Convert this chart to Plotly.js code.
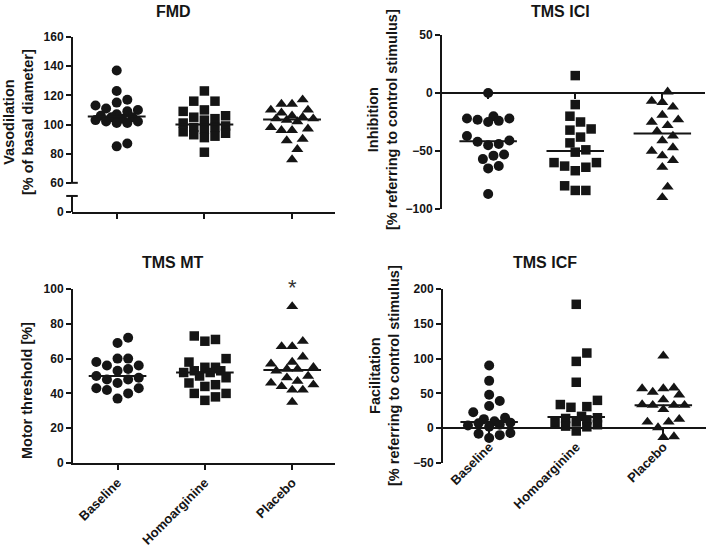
<!DOCTYPE html>
<html><head><meta charset="utf-8">
<script src="https://cdn.plot.ly/plotly-3.0.1.min.js"></script>
<style>html,body{margin:0;padding:0;background:#fff}#chart{width:709px;height:547px}</style>
</head><body><div id="chart"></div>
<script>
// ---------------- data ----------------
const groups = ["Baseline", "Homoarginine", "Placebo"];

const fmdBaseline     = [137, 123, 117, 115, 113, 111, 110, 109, 107, 106, 105, 105, 104, 103, 102, 102, 101, 101, 87, 85];
const fmdHomoarginine = [123, 116, 116, 110, 109, 106, 105, 104, 103, 101, 99, 98, 98, 97, 95, 94, 93, 92, 91, 81];
const fmdPlacebo      = [117, 114, 114, 110, 110, 108, 106, 105, 104, 104, 103, 102, 98, 97, 96, 96, 90, 89, 83, 76];

const iciBaseline     = [0, -20, -22, -22, -23, -24, -25, -37, -41, -42, -44, -45, -53, -54, -57, -63, -65, -87];
const iciHomoarginine = [15, -10, -20, -25, -31, -32, -38, -43, -49, -51, -60, -60, -63, -64, -67, -80, -84, -84];
const iciPlacebo      = [1, -7, -8, -12, -19, -23, -25, -28, -33, -37, -41, -47, -50, -54, -58, -64, -81, -90];

const mtBaseline      = [72, 69, 60, 60, 58, 56, 56, 54, 53, 50, 49, 48, 48, 46, 43, 43, 42, 40, 37];
const mtHomoarginine  = [73, 71, 70, 60, 58, 55, 55, 53, 53, 52, 52, 50, 49, 46, 45, 44, 40, 40, 38, 36];
const mtPlacebo       = [90, 70, 67, 67, 61, 58, 57, 55, 54, 54, 53, 50, 49, 47, 46, 45, 44, 42, 42, 35];

const icfBaseline     = [90, 68, 48, 39, 32, 23, 15, 13, 10, 8, 7, 5, 4, 2, -7, -8, -10, -14];
const icfHomoarginine = [178, 108, 96, 66, 40, 34, 31, 30, 17, 15, 14, 12, 10, 8, 5, 3, 2, -4];
const icfPlacebo      = [104, 58, 57, 57, 52, 48, 41, 34, 33, 33, 33, 27, 13, 9, 9, 1, -12, -13];

// ---------------- layout helpers ----------------
const W = 709, H = 547;
const INK = '#151515';
const FONT = '"Liberation Sans", Arial, Helvetica, sans-serif';
const symbols = ['circle', 'square', 'triangle-up'];
const symSize = [10, 9.5, 10.5];

const panels = [
  {key:'1', title:'FMD', data:[fmdBaseline, fmdHomoarginine, fmdPlacebo],
   xd:[72,335], yd:[37,212], xr:[-0.51,2.49], yr:[40,160], labels:false},
  {key:'2', title:'TMS ICI', data:[iciBaseline, iciHomoarginine, iciPlacebo],
   xd:[442,705], yd:[35,209], xr:[-0.53,2.49], yr:[-100,50], labels:false, zeroAxis:true},
  {key:'3', title:'TMS MT', data:[mtBaseline, mtHomoarginine, mtPlacebo],
   xd:[73,335], yd:[289,463], xr:[-0.51,2.49], yr:[0,100], labels:true},
  {key:'4', title:'TMS ICF', data:[icfBaseline, icfHomoarginine, icfPlacebo],
   xd:[443,706], yd:[289,463], xr:[-0.53,2.49], yr:[-50,200], labels:true, zeroAxis:true}
];

function median(a){
  const s = a.slice().sort((p,q)=>p-q), n = s.length;
  return n%2 ? s[(n-1)/2] : (s[n/2-1]+s[n/2])/2;
}

// beeswarm within a limited width: horizontal pixel offsets
function swarm(vals, pxPerY, diam, maxPx){
  const order = vals.map((v,i)=>i).sort((a,b)=>vals[a]-vals[b]);
  const placed = [];
  const off = new Array(vals.length).fill(0);
  const step = diam/2;
  const cands = [0];
  for (let m=1; m*step<=maxPx+0.01; m++){ cands.push(m*step, -m*step); }
  for (const i of order){
    const y = vals[i]*pxPerY;
    let best = null, bestD = -1;
    for (const c of cands){
      let dmin = Infinity;
      for (const p of placed){ dmin = Math.min(dmin, Math.hypot(p.x-c, p.y-y)); }
      if (dmin >= diam){ best = c; bestD = dmin; break; }
      if (dmin > bestD + 0.5){ bestD = dmin; best = c; }
    }
    off[i] = best; placed.push({x:best, y});
  }
  return off;
}

const traces = [];
const layout = {
  width: W, height: H,
  margin: {l:0, r:0, t:0, b:0},
  paper_bgcolor: '#fff', plot_bgcolor: 'rgba(0,0,0,0)',
  showlegend: false,
  font: {family: FONT, color: INK},
  annotations: [], shapes: []
};

panels.forEach(p => {
  const xa = 'xaxis' + (p.key==='1' ? '' : p.key), ya = 'yaxis' + (p.key==='1' ? '' : p.key);
  const xr = 'x' + (p.key==='1' ? '' : p.key), yr = 'y' + (p.key==='1' ? '' : p.key);
  const xdom = [p.xd[0]/W, p.xd[1]/W];
  const ydom = [1 - p.yd[1]/H, 1 - p.yd[0]/H];
  const pxPerY = (p.yd[1]-p.yd[0]) / (p.yr[1]-p.yr[0]);
  const pxPerX = (p.xd[1]-p.xd[0]) / (p.xr[1]-p.xr[0]);

  p.data.forEach((vals, g) => {
    const offs = swarm(vals, pxPerY, 10.6, 22);
    traces.push({
      type:'scatter', mode:'markers', xaxis:xr, yaxis:yr,
      x: vals.map((v,i) => g + offs[i]/pxPerX), y: vals,
      marker:{symbol:symbols[g], size:symSize[g], color:INK, line:{width:0}},
      cliponaxis:false, hoverinfo:'y', name: groups[g]
    });
    const m = median(vals);
    traces.push({
      type:'scatter', mode:'lines', xaxis:xr, yaxis:yr,
      x:[g-0.33, g+0.33], y:[m, m],
      line:{color:INK, width:2}, hoverinfo:'skip'
    });
  });

  const xaxis = {
    domain: xdom, range: p.xr, showgrid:false, zeroline:false,
    showline:true, linecolor:INK, linewidth:2,
    ticks:'outside', ticklen:5, tickwidth:2, tickcolor:INK,
    tickvals:[0,1,2], ticktext:groups, showticklabels:p.labels,
    tickangle:-45, tickfont:{family:FONT, size:13, color:INK, weight:'bold'},
    fixedrange:true
  };
  if (p.zeroAxis){
    xaxis.anchor = 'free';
    xaxis.position = ydom[0] + (0 - p.yr[0])/(p.yr[1]-p.yr[0]) * (ydom[1]-ydom[0]);
  } else {
    xaxis.anchor = yr;
  }
  const yaxis = {
    domain: ydom, range: p.yr, anchor: xr, showgrid:false, zeroline:false,
    showline:true, linecolor:INK, linewidth:2,
    ticks:'outside', ticklen:5, tickwidth:2, tickcolor:INK,
    tickfont:{family:FONT, size:12, color:INK, weight:'bold'}, fixedrange:true
  };
  if (p.key==='1'){
    // broken axis: 0 shown at the bottom, then a break up to 60
    yaxis.showline = false;
    yaxis.tickvals = [40,60,80,100,120,140,160];
    yaxis.ticktext = ['0','60','80','100','120','140','160'];
    layout.shapes.push(
      {type:'line', xref:'x domain', yref:yr, x0:0, x1:0, y0:60, y1:160, line:{color:INK, width:2}},
      {type:'line', xref:'x domain', yref:yr, x0:-0.004, x1:0.022, y0:60, y1:60, line:{color:INK, width:2}},
      {type:'line', xref:'x domain', yref:yr, x0:0, x1:0, y0:40, y1:51, line:{color:INK, width:2}},
      {type:'line', xref:'x domain', yref:yr, x0:-0.022, x1:0.022, y0:51, y1:51, line:{color:INK, width:2}}
    );
  }
  layout[xa] = xaxis;
  layout[ya] = yaxis;
});

// titles & axis titles
function ann(text, x, y, size, angle){
  layout.annotations.push({text, xref:'paper', yref:'paper', x:x/W, y:1-y/H,
    xanchor:'center', yanchor:'middle', showarrow:false, textangle:angle||0,
    font:{family:FONT, size, color:INK, weight:'bold'}});
}
ann('FMD', 173, 12, 16);
ann('TMS ICI', 560, 11, 16);
ann('TMS MT', 173, 262, 16);
ann('TMS ICF', 545, 262, 16);
ann('Vasodilation<br>[% of basal diameter]', 19, 122, 14.5, -90);
ann('Inhibition<br>[% referring to control stimulus]', 383, 120, 14.5, -90);
ann('Motor threshold [%]', 27, 391, 14.5, -90);
ann('Facilitation<br>[% referring to control stimulus]', 384, 376, 14.5, -90);
// significance marker above placebo (TMS MT)
layout.annotations.push({text:'*', xref:'x3', yref:'paper', x:2, y:1-287/H,
  xanchor:'center', yanchor:'middle', showarrow:false,
  font:{family:FONT, size:22, color:'#333'}});

Plotly.newPlot('chart', traces, layout, {staticPlot:true, displayModeBar:false});
</script>
</body></html>
